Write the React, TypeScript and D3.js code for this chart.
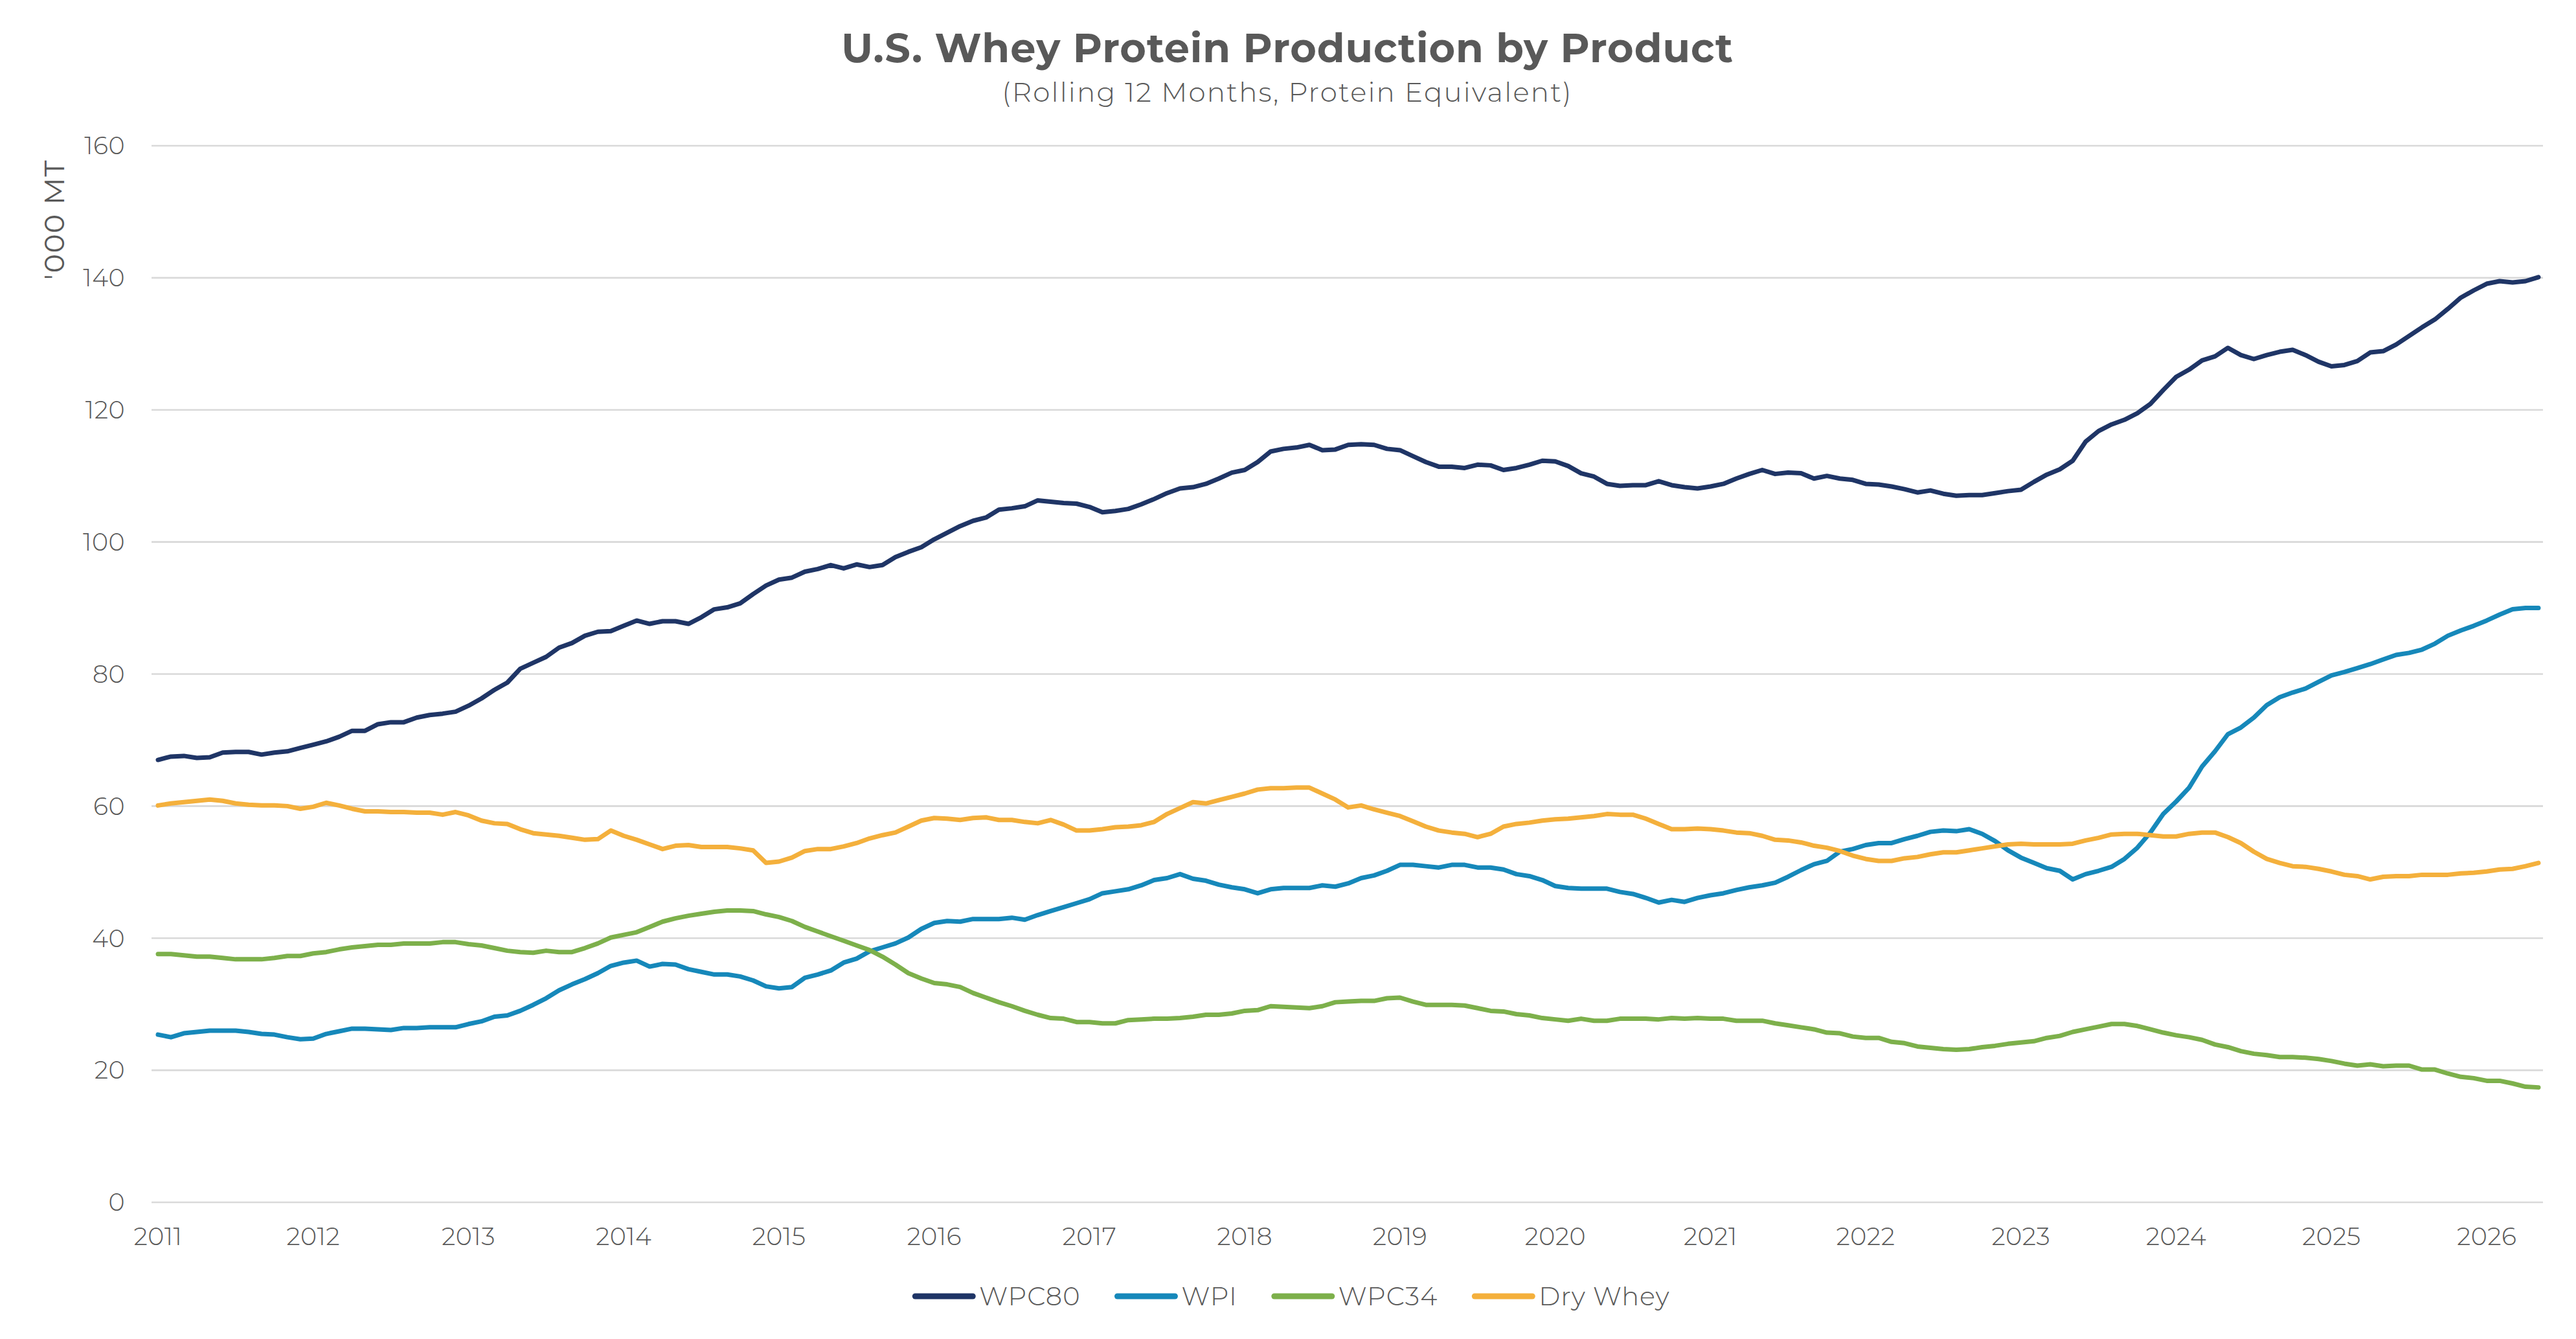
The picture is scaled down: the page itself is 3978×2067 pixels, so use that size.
import { useEffect, useRef } from 'react'
import * as d3 from 'd3'

// ── Data: monthly rolling-12 totals, Jan 2011 .. May 2026 ('000 MT) ─────────
const YEAR_LABELS = ['2011', '2012', '2013', '2014', '2015', '2016', '2017', '2018',
  '2019', '2020', '2021', '2022', '2023', '2024', '2025', '2026']

const WPC80 = [
  67.0, 67.5, 67.6, 67.3, 67.4, 68.1, 68.2, 68.2, 67.8, 68.1, 68.3, 68.8,
  69.3, 69.8, 70.5, 71.4, 71.4, 72.4, 72.7, 72.7, 73.4, 73.8, 74.0, 74.3,
  75.2, 76.3, 77.6, 78.7, 80.8, 81.7, 82.6, 84.0, 84.7, 85.8, 86.4, 86.5,
  87.3, 88.1, 87.6, 88.0, 88.0, 87.6, 88.6, 89.8, 90.1, 90.7, 92.1, 93.4,
  94.3, 94.6, 95.5, 95.9, 96.5, 96.0, 96.6, 96.2, 96.5, 97.7, 98.5, 99.2,
  100.4, 101.4, 102.4, 103.2, 103.7, 104.9, 105.1, 105.4, 106.3, 106.1, 105.9, 105.8,
  105.3, 104.5, 104.7, 105.0, 105.7, 106.5, 107.4, 108.1, 108.3, 108.8, 109.6, 110.5,
  110.9, 112.1, 113.7, 114.1, 114.3, 114.7, 113.9, 114.0, 114.7, 114.8, 114.7, 114.1,
  113.9, 113.0, 112.1, 111.4, 111.4, 111.2, 111.7, 111.6, 110.9, 111.2, 111.7, 112.3,
  112.2, 111.5, 110.4, 109.9, 108.8, 108.5, 108.6, 108.6, 109.2, 108.6, 108.3, 108.1,
  108.4, 108.8, 109.6, 110.3, 110.9, 110.3, 110.5, 110.4, 109.6, 110.0, 109.6, 109.4,
  108.8, 108.7, 108.4, 108.0, 107.5, 107.8, 107.3, 107.0, 107.1, 107.1, 107.4, 107.7,
  107.9, 109.1, 110.2, 111.0, 112.3, 115.2, 116.8, 117.8, 118.5, 119.5, 120.9, 123.0,
  125.0, 126.1, 127.5, 128.1, 129.4, 128.3, 127.7, 128.3, 128.8, 129.1, 128.3, 127.3,
  126.6, 126.8, 127.4, 128.7, 128.9, 129.9, 131.2, 132.5, 133.7, 135.3, 137.0, 138.1,
  139.1, 139.5, 139.3, 139.5, 140.1,
]

const WPI = [
  25.4, 25.0, 25.6, 25.8, 26.0, 26.0, 26.0, 25.8, 25.5, 25.4, 25.0, 24.7,
  24.8, 25.5, 25.9, 26.3, 26.3, 26.2, 26.1, 26.4, 26.4, 26.5, 26.5, 26.5,
  27.0, 27.4, 28.1, 28.3, 29.0, 29.9, 30.9, 32.1, 33.0, 33.8, 34.7, 35.8,
  36.3, 36.6, 35.7, 36.1, 36.0, 35.3, 34.9, 34.5, 34.5, 34.2, 33.6, 32.7,
  32.4, 32.6, 34.0, 34.5, 35.1, 36.3, 36.9, 38.0, 38.6, 39.2, 40.1, 41.4,
  42.3, 42.6, 42.5, 42.9, 42.9, 42.9, 43.1, 42.8, 43.5, 44.1, 44.7, 45.3,
  45.9, 46.8, 47.1, 47.4, 48.0, 48.8, 49.1, 49.7, 49.0, 48.7, 48.1, 47.7,
  47.4, 46.8, 47.4, 47.6, 47.6, 47.6, 48.0, 47.8, 48.3, 49.1, 49.5, 50.2,
  51.1, 51.1, 50.9, 50.7, 51.1, 51.1, 50.7, 50.7, 50.4, 49.7, 49.4, 48.8,
  47.9, 47.6, 47.5, 47.5, 47.5, 47.0, 46.7, 46.1, 45.4, 45.8, 45.5, 46.1,
  46.5, 46.8, 47.3, 47.7, 48.0, 48.4, 49.3, 50.3, 51.2, 51.7, 53.1, 53.5,
  54.1, 54.4, 54.4, 55.0, 55.5, 56.1, 56.3, 56.2, 56.5, 55.8, 54.7, 53.3,
  52.2, 51.4, 50.6, 50.2, 48.9, 49.7, 50.2, 50.8, 52.0, 53.7, 56.0, 58.8,
  60.7, 62.8, 66.0, 68.3, 70.9, 71.9, 73.4, 75.3, 76.5, 77.2, 77.8, 78.8,
  79.8, 80.3, 80.9, 81.5, 82.2, 82.9, 83.2, 83.7, 84.6, 85.8, 86.6, 87.3,
  88.1, 89.0, 89.8, 90.0, 90.0,
]

const WPC34 = [
  37.6, 37.6, 37.4, 37.2, 37.2, 37.0, 36.8, 36.8, 36.8, 37.0, 37.3, 37.3,
  37.7, 37.9, 38.3, 38.6, 38.8, 39.0, 39.0, 39.2, 39.2, 39.2, 39.4, 39.4,
  39.1, 38.9, 38.5, 38.1, 37.9, 37.8, 38.1, 37.9, 37.9, 38.5, 39.2, 40.1,
  40.5, 40.9, 41.7, 42.5, 43.0, 43.4, 43.7, 44.0, 44.2, 44.2, 44.1, 43.6,
  43.2, 42.6, 41.7, 41.0, 40.3, 39.6, 38.9, 38.2, 37.2, 36.0, 34.7, 33.9,
  33.2, 33.0, 32.6, 31.7, 31.0, 30.3, 29.7, 29.0, 28.4, 27.9, 27.8, 27.3,
  27.3, 27.1, 27.1, 27.6, 27.7, 27.8, 27.8, 27.9, 28.1, 28.4, 28.4, 28.6,
  29.0, 29.1, 29.7, 29.6, 29.5, 29.4, 29.7, 30.3, 30.4, 30.5, 30.5, 30.9,
  31.0, 30.4, 29.9, 29.9, 29.9, 29.8, 29.4, 29.0, 28.9, 28.5, 28.3, 27.9,
  27.7, 27.5, 27.8, 27.5, 27.5, 27.8, 27.8, 27.8, 27.7, 27.9, 27.8, 27.9,
  27.8, 27.8, 27.5, 27.5, 27.5, 27.1, 26.8, 26.5, 26.2, 25.7, 25.6, 25.1,
  24.9, 24.9, 24.3, 24.1, 23.6, 23.4, 23.2, 23.1, 23.2, 23.5, 23.7, 24.0,
  24.2, 24.4, 24.9, 25.2, 25.8, 26.2, 26.6, 27.0, 27.0, 26.7, 26.2, 25.7,
  25.3, 25.0, 24.6, 23.9, 23.5, 22.9, 22.5, 22.3, 22.0, 22.0, 21.9, 21.7,
  21.4, 21.0, 20.7, 20.9, 20.6, 20.7, 20.7, 20.1, 20.1, 19.5, 19.0, 18.8,
  18.4, 18.4, 18.0, 17.5, 17.4,
]

const DRY_WHEY = [
  60.1, 60.4, 60.6, 60.8, 61.0, 60.8, 60.4, 60.2, 60.1, 60.1, 60.0, 59.6,
  59.9, 60.5, 60.1, 59.6, 59.2, 59.2, 59.1, 59.1, 59.0, 59.0, 58.7, 59.1,
  58.6, 57.8, 57.4, 57.3, 56.5, 55.9, 55.7, 55.5, 55.2, 54.9, 55.0, 56.3,
  55.5, 54.9, 54.2, 53.5, 54.0, 54.1, 53.8, 53.8, 53.8, 53.6, 53.3, 51.4,
  51.6, 52.2, 53.2, 53.5, 53.5, 53.9, 54.4, 55.1, 55.6, 56.0, 56.9, 57.8,
  58.2, 58.1, 57.9, 58.2, 58.3, 57.9, 57.9, 57.6, 57.4, 57.9, 57.2, 56.3,
  56.3, 56.5, 56.8, 56.9, 57.1, 57.6, 58.8, 59.7, 60.6, 60.4, 60.9, 61.4,
  61.9, 62.5, 62.7, 62.7, 62.8, 62.8, 61.9, 61.0, 59.8, 60.1, 59.5, 59.0,
  58.5, 57.7, 56.9, 56.3, 56.0, 55.8, 55.3, 55.8, 56.9, 57.3, 57.5, 57.8,
  58.0, 58.1, 58.3, 58.5, 58.8, 58.7, 58.7, 58.1, 57.3, 56.5, 56.5, 56.6,
  56.5, 56.3, 56.0, 55.9, 55.5, 54.9, 54.8, 54.5, 54.0, 53.7, 53.2, 52.5,
  52.0, 51.7, 51.7, 52.1, 52.3, 52.7, 53.0, 53.0, 53.3, 53.6, 53.9, 54.2,
  54.3, 54.2, 54.2, 54.2, 54.3, 54.8, 55.2, 55.7, 55.8, 55.8, 55.6, 55.4,
  55.4, 55.8, 56.0, 56.0, 55.3, 54.4, 53.1, 52.0, 51.4, 50.9, 50.8, 50.5,
  50.1, 49.6, 49.4, 48.9, 49.3, 49.4, 49.4, 49.6, 49.6, 49.6, 49.8, 49.9,
  50.1, 50.4, 50.5, 50.9, 51.4,
]

const SERIES_NAMES = ['WPC80', 'WPI', 'WPC34', 'Dry Whey']
const SERIES_VALUES = [WPC80, WPI, WPC34, DRY_WHEY]
const SERIES_COLORS = ['#1f3566', '#1688ba', '#7db04b', '#f4b03c']
const Y_TICKS = [0, 20, 40, 60, 80, 100, 120, 140, 160]

const W = 3978
const H = 2067
const FONT = "Montserrat, 'Open Sans', Lato, sans-serif"
const TEXT = '#595959'

export default function App() {
  const svgRef = useRef<SVGSVGElement>(null)

  useEffect(() => {
    document.body.style.margin = '0'
    const svg = d3.select(svgRef.current)
    svg.selectAll('*').remove()
    svg.attr('width', W).attr('height', H)
    svg.append('rect').attr('width', W).attr('height', H).attr('fill', '#ffffff')

    const n = WPC80.length
    const x = d3.scaleLinear().domain([0, n - 1]).range([244, 3920])
    const y = d3.scaleLinear().domain([0, 160]).range([1856, 225])

    // gridlines + y labels
    const grid = svg.append('g')
    Y_TICKS.forEach((t) => {
      grid.append('line')
        .attr('x1', x(0) - 10).attr('x2', x(n - 1) + 7)
        .attr('y1', y(t)).attr('y2', y(t))
        .attr('stroke', '#d9d9d9').attr('stroke-width', 2.6)
      grid.append('text')
        .attr('x', 193).attr('y', y(t)).attr('dy', '0.35em')
        .attr('text-anchor', 'end')
        .attr('font-family', FONT).attr('font-size', 38).attr('font-weight', 300)
        .attr('letter-spacing', 0.5)
        .attr('fill', TEXT).text(t)
    })

    // x labels at each January
    YEAR_LABELS.forEach((lab, i) => {
      svg.append('text')
        .attr('x', x(i * 12)).attr('y', 1922)
        .attr('text-anchor', 'middle')
        .attr('font-family', FONT).attr('font-size', 38).attr('font-weight', 300)
        .attr('letter-spacing', 0.5)
        .attr('fill', TEXT).text(lab)
    })

    // series lines
    const line = d3.line<number>().x((_, i) => x(i)).y((d) => y(d))
    SERIES_VALUES.forEach((vals, k) => {
      svg.append('path')
        .attr('d', line(vals))
        .attr('fill', 'none')
        .attr('stroke', SERIES_COLORS[k])
        .attr('stroke-width', 7)
        .attr('stroke-linejoin', 'round')
        .attr('stroke-linecap', 'round')
    })

    // titles
    svg.append('text')
      .attr('x', 1988).attr('y', 96).attr('text-anchor', 'middle')
      .attr('font-family', FONT).attr('font-size', 62).attr('font-weight', 700)
      .attr('letter-spacing', 0.9)
      .attr('fill', TEXT).text('U.S. Whey Protein Production by Product')
    svg.append('text')
      .attr('x', 1988).attr('y', 157).attr('text-anchor', 'middle')
      .attr('font-family', FONT).attr('font-size', 42).attr('font-weight', 300)
      .attr('letter-spacing', 2.2)
      .attr('fill', TEXT).text('(Rolling 12 Months, Protein Equivalent)')

    // y-axis title
    svg.append('text')
      .attr('transform', 'translate(99,339) rotate(-90)')
      .attr('text-anchor', 'middle')
      .attr('font-family', FONT).attr('font-size', 44).attr('font-weight', 400)
      .attr('letter-spacing', 1.5)
      .attr('fill', TEXT).text("'000 MT")

    // legend, laid out from measured text widths and centred
    const leg = svg.append('g')
    const swatch = 97
    const gap = 6
    const spacing = 53
    let cursor = 0
    SERIES_NAMES.forEach((name, k) => {
      leg.append('line')
        .attr('x1', cursor + 4).attr('x2', cursor + swatch - 4)
        .attr('y1', 2001).attr('y2', 2001)
        .attr('stroke', SERIES_COLORS[k]).attr('stroke-width', 9)
        .attr('stroke-linecap', 'round')
      const t = leg.append('text')
        .attr('x', cursor + swatch + gap).attr('y', 2001).attr('dy', '0.35em')
        .attr('font-family', FONT).attr('font-size', 40).attr('font-weight', 300)
        .attr('letter-spacing', 1)
        .attr('fill', TEXT).text(name)
      const tw = (t.node() as SVGTextElement).getComputedTextLength()
      cursor += swatch + gap + tw + spacing
    })
    const total = cursor - spacing
    leg.attr('transform', `translate(${1994 - total / 2},0)`)
  }, [])

  return <svg ref={svgRef} style={{ display: 'block' }} />
}
